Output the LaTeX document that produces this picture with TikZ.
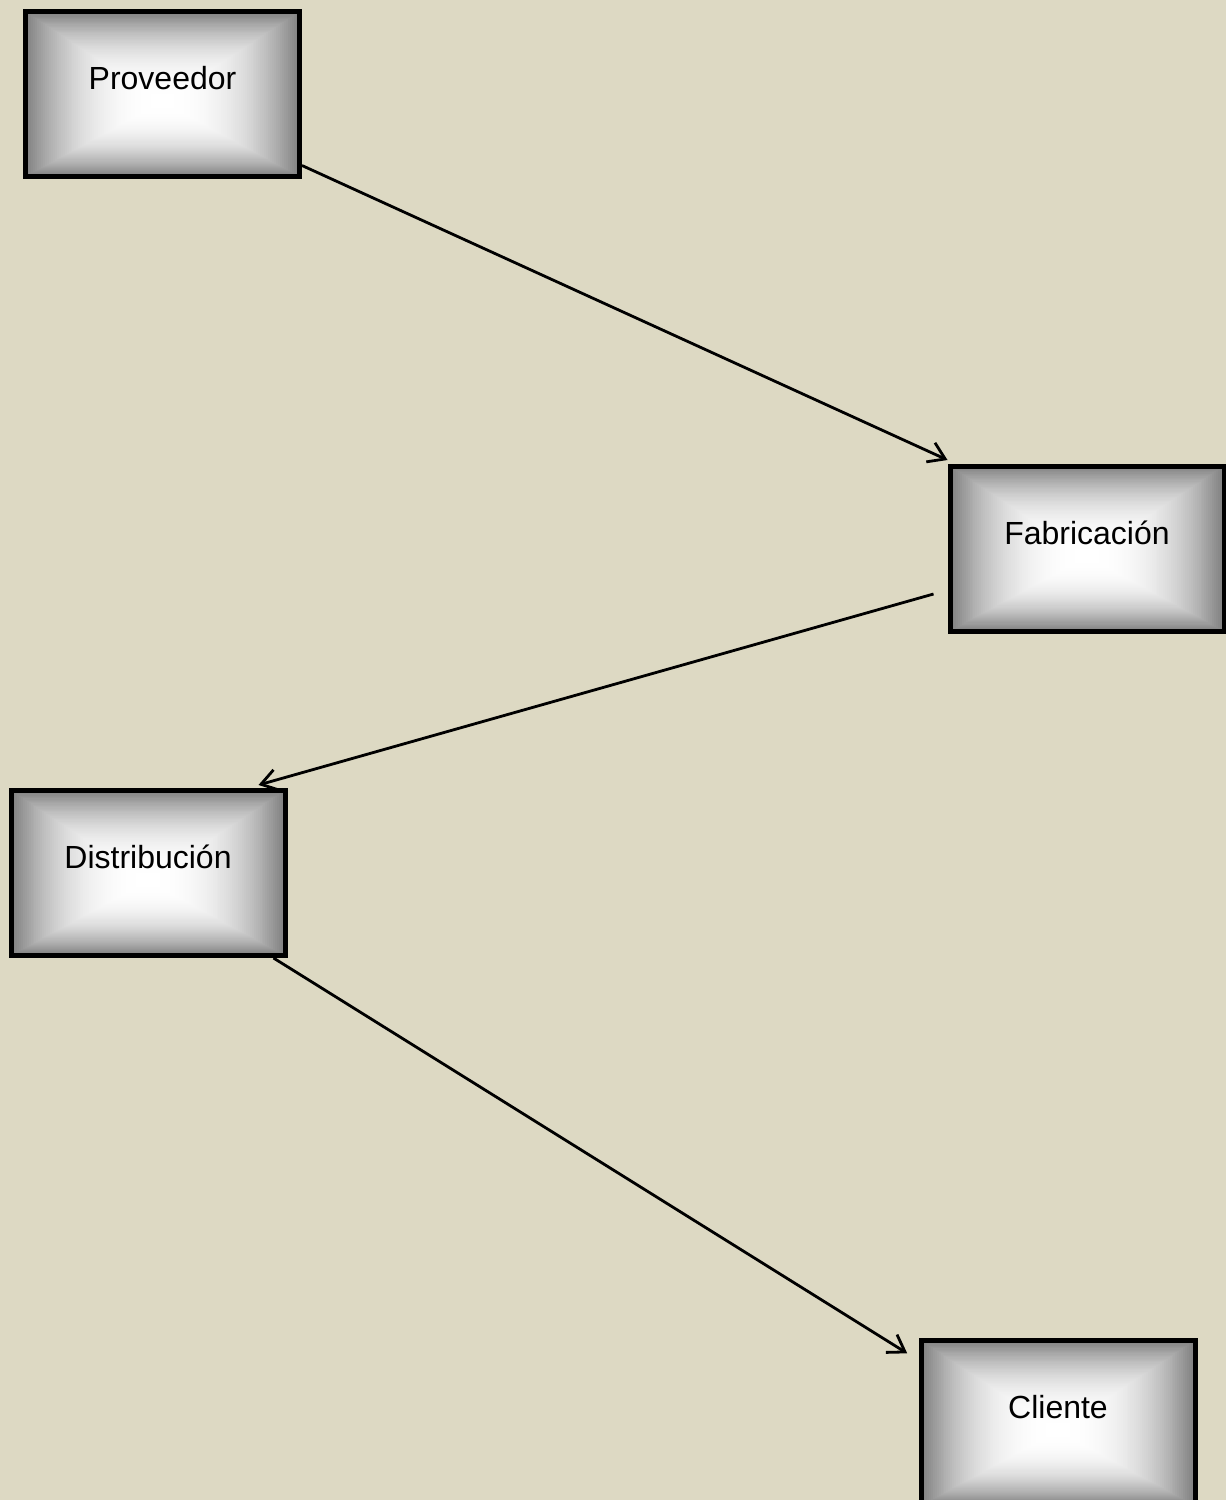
\documentclass[tikz,border=0pt]{standalone}
\usepackage{fontspec}
\setmainfont{Liberation Sans}
\usetikzlibrary{calc,arrows.meta}

\definecolor{paper}{HTML}{DDD9C3}
\definecolor{edgegray}{RGB}{128,128,128}

\tikzset{
  % box with a rectangular (path) gradient: gray rim, white centre
  stagebox/.style={
    draw=black, line width=5pt, minimum width=274pt, minimum height=165pt,
    inner sep=0pt, text=black,
    font=\fontsize{32pt}{38pt}\selectfont,
    path picture={
      \coordinate (gc) at ([yshift=-8pt]path picture bounding box.center);
      \foreach \gk in {0,...,69}{
        \pgfmathsetmacro{\gscale}{1-\gk/70}
        \pgfmathsetmacro{\gmix}{100*(1-\gscale^2.5)}
        \fill[white!\gmix!edgegray]
          ($(gc)!\gscale!(path picture bounding box.south west)$) rectangle
          ($(gc)!\gscale!(path picture bounding box.north east)$);
      }
    }
  },
  flow/.style={draw=black, line width=2.8pt,
    -{Straight Barb[length=16pt, width=21pt, line width=2.8pt]}},
}

\newcommand{\boxlabel}[1]{\raisebox{4.5pt}[0pt][0pt]{#1}}

\begin{document}
\begin{tikzpicture}[x=1pt, y=-1pt]
  \fill[paper] (0,0) rectangle (1226,1500);
  \useasboundingbox (0,0) rectangle (1226,1500);

  \node[stagebox] (prov) at (162.5,94)   {\boxlabel{Proveedor}};
  \node[stagebox] (fab)  at (1087,548.5) {\boxlabel{Fabricación}};
  \node[stagebox] (dist) at (148,873)    {\boxlabel{Distribución}};
  \node[stagebox] (cli)  at (1058,1423)  {\boxlabel{Cliente}};

  \draw[flow] ([yshift=13.5pt]prov.south east) -- ([yshift=3.5pt]fab.north west);
  \draw[flow] ([xshift=-14pt, yshift=-45.5pt]fab.west) -- ([xshift=-29pt, yshift=3pt]dist.north east);
  \draw[flow] ([xshift=-14pt]dist.south east) -- ([xshift=-11.3pt, yshift=-15.3pt]cli.north west);
\end{tikzpicture}
\end{document}
